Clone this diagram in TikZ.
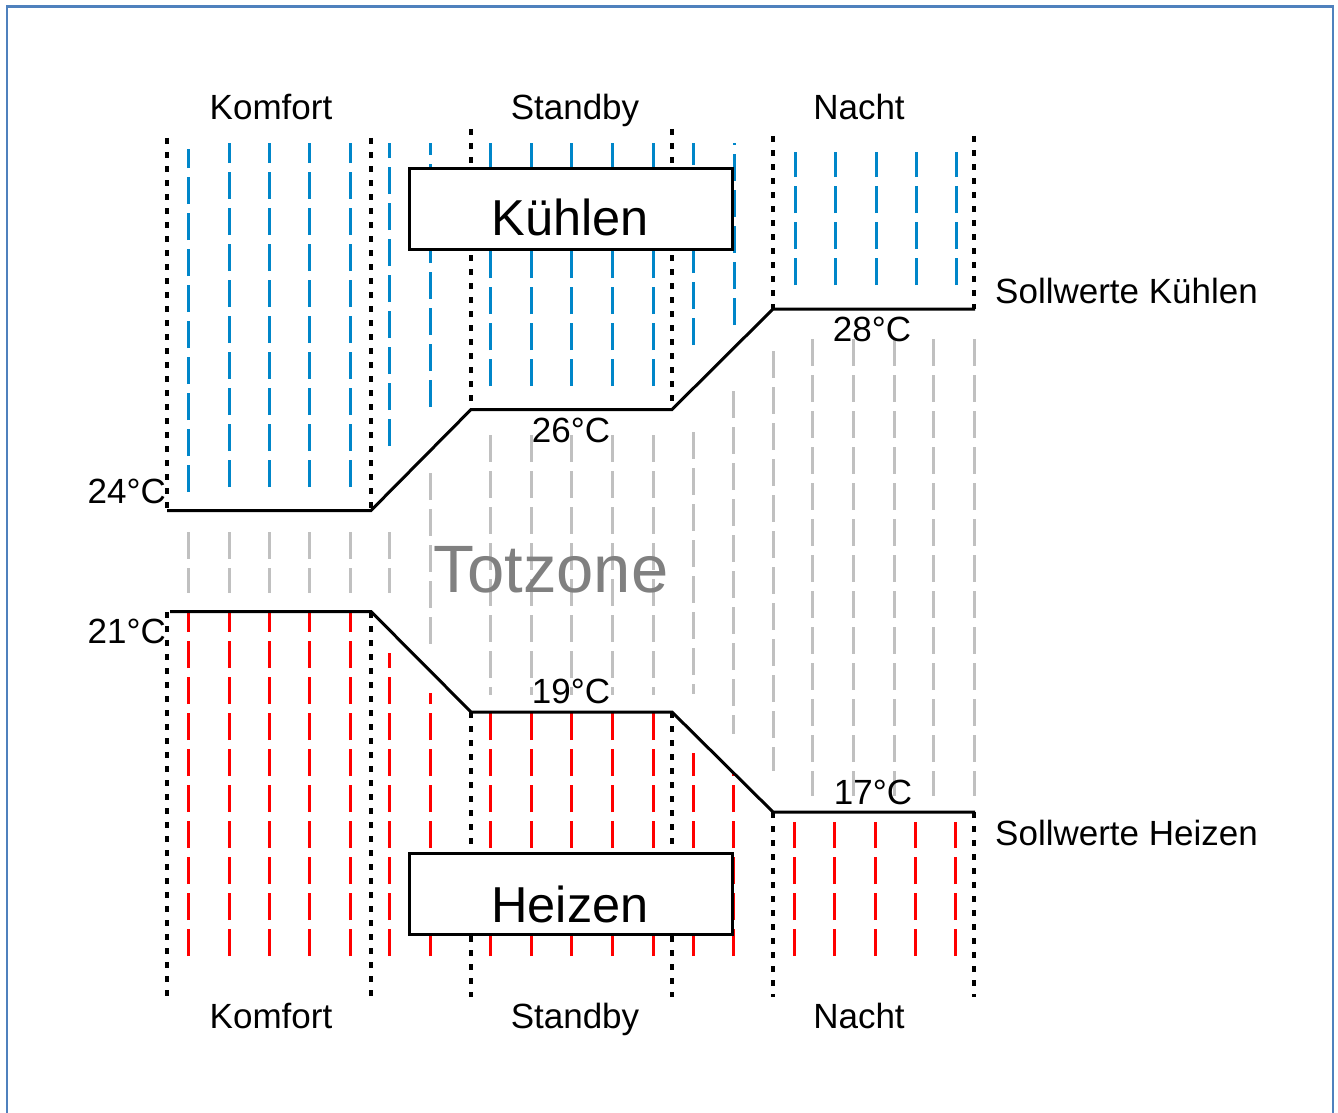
\documentclass[tikz,border=0pt]{standalone}
\usepackage{fontspec}
\setmainfont{Liberation Sans}
\definecolor{coolc}{RGB}{0,134,201}
\definecolor{lgray}{RGB}{192,192,192}
\definecolor{heatc}{RGB}{255,0,0}
\definecolor{framec}{RGB}{79,129,189}
\definecolor{tzgray}{RGB}{128,128,128}
\begin{document}
\begin{tikzpicture}[x=1pt,y=-1pt,
  hatch/.style={line width=3pt, dash pattern=on 27pt off 9pt},
  sepline/.style={line width=3.5pt, dash pattern=on 6pt off 8pt},
  setp/.style={line width=3pt, line join=miter},
  lbl/.style={font=\fontsize{35}{42}\selectfont, inner sep=0pt},
  modebox/.style={draw, line width=3pt, fill=white, minimum width=323pt, minimum height=81pt, inner sep=0pt},
  boxtext/.style={font=\fontsize{50.5}{60}\selectfont, inner sep=0pt, anchor=base}]
\useasboundingbox (0,0) rectangle (1338,1113);
% frame
\draw[framec, line width=1.5pt] (7,1130) -- (7,6) -- (1333,6) -- (1333,1130);
\draw[framec, line width=3pt] (6,6.5) -- (1334,6.5);

% gray dead-zone hatch (top -> bottom)
\foreach \x/\t/\b in {188/532/593, 229/532/593, 269/532/593, 309/532/593, 350/532/593, 389/532/593,
  430/473/653, 490/435/695, 531/435/695, 571/435/695, 612/435/695, 653/435/695,
  693/432/694, 733/391/734, 773/351/771,
  812/339/796, 853/339/796, 894/339/796, 933/339/796, 974/339/796}
  \draw[hatch, lgray] (\x,\t) -- (\x,\b);

% blue cooling hatch (bottom -> top)
\foreach \x/\t/\b in {188/149/492, 229/143/487, 269/143/487, 309/143/487, 350/143/487,
  389/143/446, 430/143/407, 490/143/386, 531/143/386, 571/143/386, 612/143/386, 653/143/386,
  693/143/345, 734/143/325, 795/152/285, 835/152/285, 876/152/285, 916/152/285, 956/152/285}
  \draw[hatch, coolc] (\x,\b) -- (\x,\t);

% red heating hatch (bottom -> top)
\foreach \x/\t in {188/612, 229/612, 269/612, 309/612, 350/612, 389/653, 430/693,
  490/712, 531/712, 571/712, 612/712, 653/712, 693/753, 733/773,
  794/822, 834/822, 875/822, 915/822, 955/822}
  \draw[hatch, heatc] (\x,956) -- (\x,\t);

% dotted separators
\foreach \x/\t/\m/\n in {167/138/510/612, 371/138/510/612, 471/129/409/712, 672/129/409/712, 773/136/309/812, 974/136/309/812}{
  \draw[sepline] (\x,\t) -- (\x,\m);
  \draw[sepline] (\x,\n) -- (\x,997);
}

% setpoint lines
\coordinate (c1) at (167,510.5);
\coordinate (c2) at (371,510.5);
\coordinate (c3) at (471,409.5);
\coordinate (c4) at (672,409.5);
\coordinate (c5) at (773,309);
\coordinate (c6) at (975,309);
\coordinate (h1) at (170,611.5);
\coordinate (h2) at (371,611.5);
\coordinate (h3) at (471,712);
\coordinate (h4) at (672,712);
\coordinate (h5) at (773,812);
\coordinate (h6) at (975,812);
\draw[setp] (c1) -- (c2) -- (c3) -- (c4) -- (c5) -- (c6);
\draw[setp] (h1) -- (h2) -- (h3) -- (h4) -- (h5) -- (h6);

% mode boxes
\node[modebox] (kbox) at (570.5,208.5) {};
\node[boxtext] (ktext) at (570,235) {Kühlen};
\node[modebox] (hbox) at (570.5,894) {};
\node[boxtext] (htext) at (570,922) {Heizen};

% mode labels
\node[lbl, anchor=base] (komt) at (271,120) {Komfort};
\node[lbl, anchor=base] (stbt) at (575,120) {Standby};
\node[lbl, anchor=base] (nact) at (859,120) {Nacht};
\node[lbl, anchor=base] (komb) at (271,1028) {Komfort};
\node[lbl, anchor=base] (stbb) at (575,1028) {Standby};
\node[lbl, anchor=base] (nacb) at (859,1028) {Nacht};

% temperature labels
\node[lbl, anchor=base east] (t24) at (166,503) {24°C};
\node[lbl, anchor=base east] (t21) at (166,643) {21°C};
\node[lbl, anchor=base] (t26) at (571,442) {26°C};
\node[lbl, anchor=base] (t19) at (571,703) {19°C};
\node[lbl, anchor=base] (t28) at (872,341) {28°C};
\node[lbl, anchor=base] (t17) at (873,804) {17°C};

\node[lbl, anchor=base west] (sk) at (995,303) {Sollwerte Kühlen};
\node[lbl, anchor=base west] (sh) at (995,845) {Sollwerte Heizen};

\node[font=\fontsize{67}{80}\selectfont, text=tzgray, inner sep=0pt, anchor=base] (tz) at (551,592) {Totzone};
\end{tikzpicture}
\end{document}
